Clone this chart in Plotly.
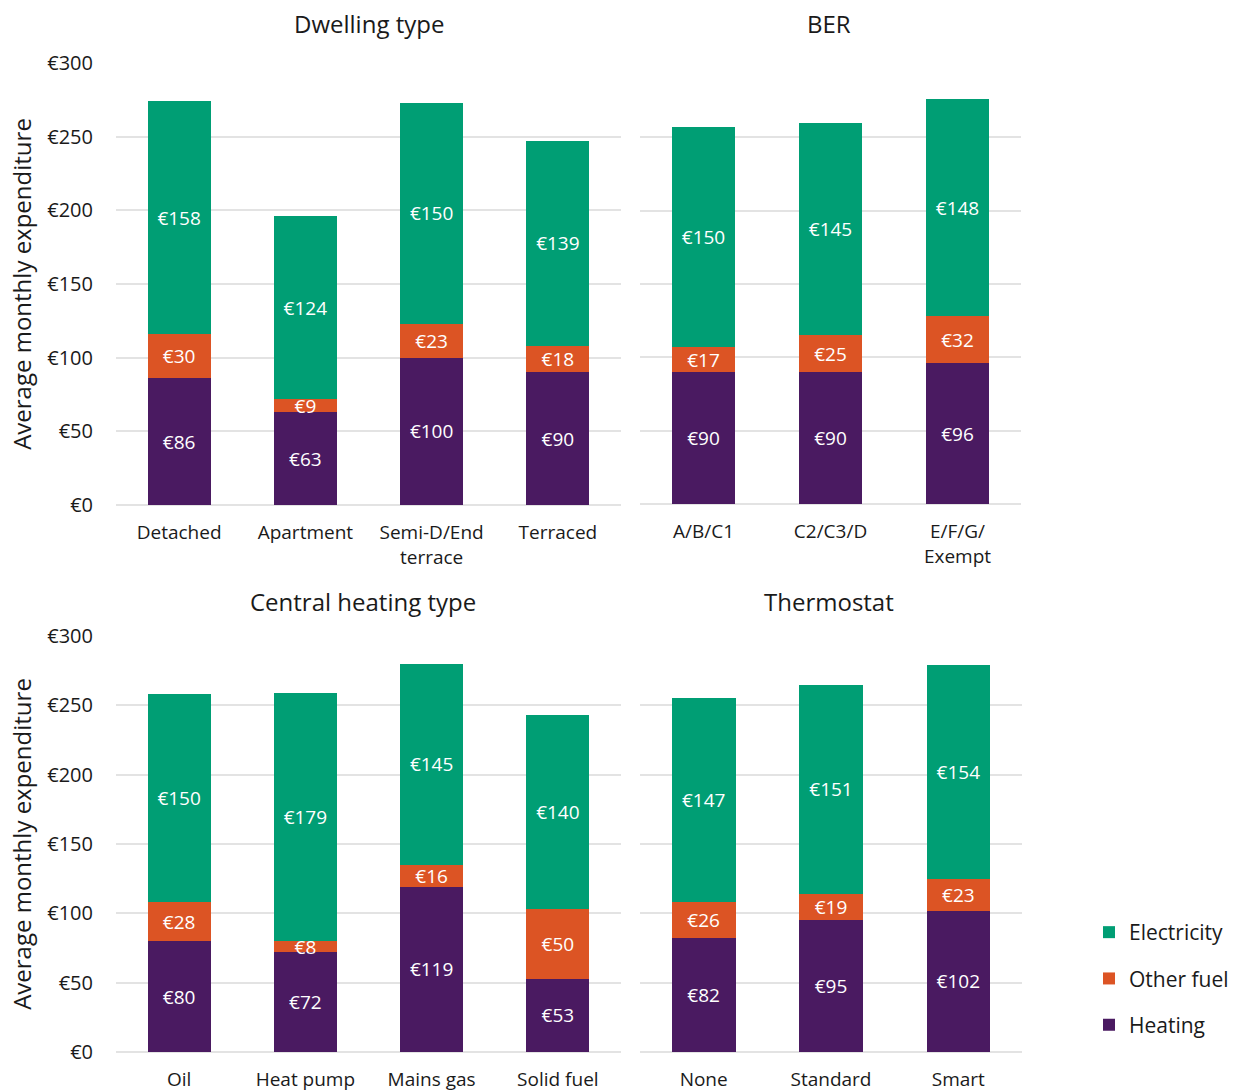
import plotly.graph_objects as go

series_names = ["Heating", "Other fuel", "Electricity"]
legend_ranks = {"Electricity": 1, "Other fuel": 2, "Heating": 3}
colors = {"Heating": "#4A1A61", "Other fuel": "#DC5424", "Electricity": "#009E74"}

panel_titles = ["Dwelling type", "BER", "Central heating type", "Thermostat"]

dwelling_cats = ["Detached", "Apartment", "Semi-D/End<br>terrace", "Terraced"]
dwelling_heating = [86, 63, 100, 90]
dwelling_other = [30, 9, 23, 18]
dwelling_elec = [158, 124, 150, 139]

ber_cats = ["A/B/C1", "C2/C3/D", "E/F/G/<br>Exempt"]
ber_heating = [90, 90, 96]
ber_other = [17, 25, 32]
ber_elec = [150, 145, 148]

ch_cats = ["Oil", "Heat pump", "Mains gas", "Solid fuel"]
ch_heating = [80, 72, 119, 53]
ch_other = [28, 8, 16, 50]
ch_elec = [150, 179, 145, 140]

thermo_cats = ["None", "Standard", "Smart"]
thermo_heating = [82, 95, 102]
thermo_other = [26, 19, 23]
thermo_elec = [147, 151, 154]

y_ticks = [0, 50, 100, 150, 200, 250, 300]
y_ticktext = ["€" + str(v) for v in y_ticks]

panels = [
    (dwelling_cats, [dwelling_heating, dwelling_other, dwelling_elec], "x", "y"),
    (ber_cats, [ber_heating, ber_other, ber_elec], "x2", "y2"),
    (ch_cats, [ch_heating, ch_other, ch_elec], "x3", "y3"),
    (thermo_cats, [thermo_heating, thermo_other, thermo_elec], "x4", "y4"),
]

FONT = "Open Sans"
fig = go.Figure()
for pi, (cats, vals, xa, ya) in enumerate(panels):
    for name, v in zip(series_names, vals):
        fig.add_trace(go.Bar(
            x=cats, y=v, name=name, xaxis=xa, yaxis=ya,
            marker=dict(color=colors[name], line=dict(width=0)),
            text=["€" + str(a) for a in v], textposition="inside",
            insidetextanchor="middle", textangle=0, constraintext="none",
            textfont=dict(color="white", size=19, family=FONT),
            width=0.5, legendgroup=name, legendrank=legend_ranks[name],
            showlegend=(pi == 0), hoverinfo="skip",
        ))

W, H = 1235, 1091
def px_x(a, b):
    return [a / W, b / W]
def px_y(top, bottom):
    return [1 - bottom / H, 1 - top / H]

xdoms = [px_x(116, 621), px_x(640, 1021), px_x(116, 621), px_x(640, 1022)]
ydoms = [px_y(63, 505), px_y(64, 504), px_y(636, 1052), px_y(636, 1052)]

layout = dict(
    width=W, height=H, barmode="stack",
    margin=dict(l=0, r=0, t=0, b=0, autoexpand=False),
    paper_bgcolor="white", plot_bgcolor="white",
    font=dict(family=FONT, color="#1a1a1a", size=20),
    legend=dict(x=1089 / W, y=1 - 912 / H, xanchor="left", yanchor="top",
                traceorder="grouped", tracegroupgap=16,
                font=dict(size=21, family=FONT), itemwidth=30),
)
for i in range(4):
    sfx = "" if i == 0 else str(i + 1)
    layout["xaxis" + sfx] = dict(
        domain=xdoms[i], anchor="y" + sfx, showgrid=False, showline=False,
        zeroline=False, ticks="outside", ticklen=10, tickcolor="rgba(0,0,0,0)",
        tickfont=dict(size=19, family=FONT), fixedrange=True, automargin=False,
    )
    left = i in (0, 2)
    layout["yaxis" + sfx] = dict(
        domain=ydoms[i], anchor="x" + sfx, range=[0, 300],
        tickmode="array", tickvals=y_ticks, ticktext=y_ticktext,
        showticklabels=left, showgrid=True,
        gridcolor="#E3E3E3", gridwidth=2, zeroline=True, zerolinecolor="#E3E3E3",
        zerolinewidth=2, showline=False, ticks="outside" if left else "",
        ticklen=18, tickcolor="rgba(0,0,0,0)", tickfont=dict(size=20, family=FONT),
        title=dict(text="Average monthly expenditure" if left else "",
                   font=dict(size=24, family=FONT), standoff=8),
        fixedrange=True, automargin=False,
    )
fig.update_layout(**layout)

title_pos = [(369, 24), (829, 24), (363, 601), (829, 601)]
for t, (cx, cy) in zip(panel_titles, title_pos):
    fig.add_annotation(text=t, x=cx / W, y=1 - cy / H, xref="paper", yref="paper",
                       xanchor="center", yanchor="middle", showarrow=False,
                       font=dict(size=24, family=FONT, color="#1a1a1a"))

fig.write_html("out.html")
